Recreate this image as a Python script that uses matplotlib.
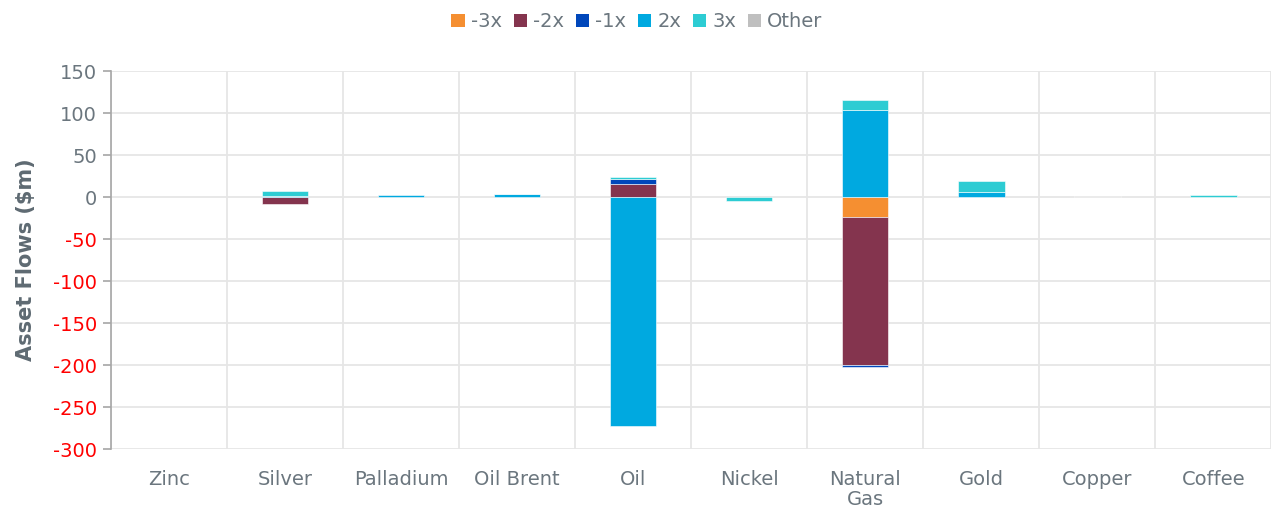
import numpy as np
import matplotlib.pyplot as plt
from matplotlib.patches import Patch

plt.rcParams['font.family'] = ['DejaVu Sans']
plt.rcParams['axes.unicode_minus'] = False

categories = ["Zinc", "Silver", "Palladium", "Oil Brent", "Oil",
              "Nickel", "Natural\nGas", "Gold", "Copper", "Coffee"]
series = ["-3x", "-2x", "-1x", "2x", "3x", "Other"]
flows = {
    "-3x":   [0, 0, 0, 0, 0, 0, -24, 0, 0, 0],
    "-2x":   [0, -8, 0, 0, 15.5, 0, -176, 0, 0, 0],
    "-1x":   [0, 0, 0, 0, 5.5, 0, -2, 0, 0, 0],
    "2x":    [0, 1, 2, 3.5, -272, 0, 103.5, 6, 0, 0],
    "3x":    [0, 6, 0, 0.8, 3.5, -5, 12, 13, 0, 3],
    "Other": [0, 0, 0, 0, 0, 0, 0, 0, 1, 0],
}
colors = {"-3x": "#F58F31", "-2x": "#84344E", "-1x": "#0047BB",
          "2x": "#00A9E0", "3x": "#2DCCD3", "Other": "#BFBFBF"}
yticks = [150, 100, 50, 0, -50, -100, -150, -200, -250, -300]

grey = "#5E6A72"
grid_c = "#E6E6E6"

fig = plt.figure(figsize=(12.74, 5.12), dpi=100)
ax = fig.add_axes([0.087, 0.123, 0.911, 0.738])

x = np.arange(len(categories))
pos_base = np.zeros(len(categories))
neg_base = np.zeros(len(categories))
for s in series:
    v = np.array(flows[s], dtype=float)
    base = np.where(v >= 0, pos_base, neg_base)
    keep = v != 0
    ax.bar(x[keep], v[keep], 0.4, bottom=base[keep], color=colors[s],
           edgecolor="white", linewidth=0.4, zorder=3)
    pos_base += np.where(v >= 0, v, 0)
    neg_base += np.where(v < 0, v, 0)

ax.set_xlim(-0.5, len(categories) - 0.5)
ax.set_ylim(-300, 150)
ax.set_yticks(yticks)
ax.set_xticks(x)
ax.set_xticklabels(categories, fontsize=14, color="#6B767E", linespacing=1.05)
ax.set_xticks(np.arange(len(categories) + 1) - 0.5, minor=True)
ax.tick_params(axis="x", which="both", length=0, pad=15)
ax.tick_params(axis="y", length=6, width=1.2, color="#A6A6A6",
               labelsize=14, pad=4)
for lab, val in zip(ax.get_yticklabels(), ax.get_yticks()):
    lab.set_color("#FF0000" if val < 0 else "#6B767E")

ax.grid(axis="y", which="major", color=grid_c, linewidth=1.3, zorder=0)
ax.grid(axis="x", which="minor", color=grid_c, linewidth=1.3, zorder=0)
for side in ["top", "right", "bottom"]:
    ax.spines[side].set_visible(False)
ax.spines["left"].set_color("#A6A6A6")
ax.spines["left"].set_linewidth(1.2)

ax.set_ylabel("Asset Flows ($m)", fontsize=15, fontweight="heavy",
              color=grey, labelpad=12)

handles = [Patch(facecolor=colors[s], edgecolor="none") for s in series]
fig.legend(handles, series, loc="upper center", bbox_to_anchor=(0.5, 1.01),
           ncol=len(series), frameon=False, fontsize=14, handlelength=0.7,
           handleheight=0.7, handletextpad=0.3, columnspacing=0.6,
           labelcolor="#6B767E")

fig.savefig("out.png", dpi=100)
